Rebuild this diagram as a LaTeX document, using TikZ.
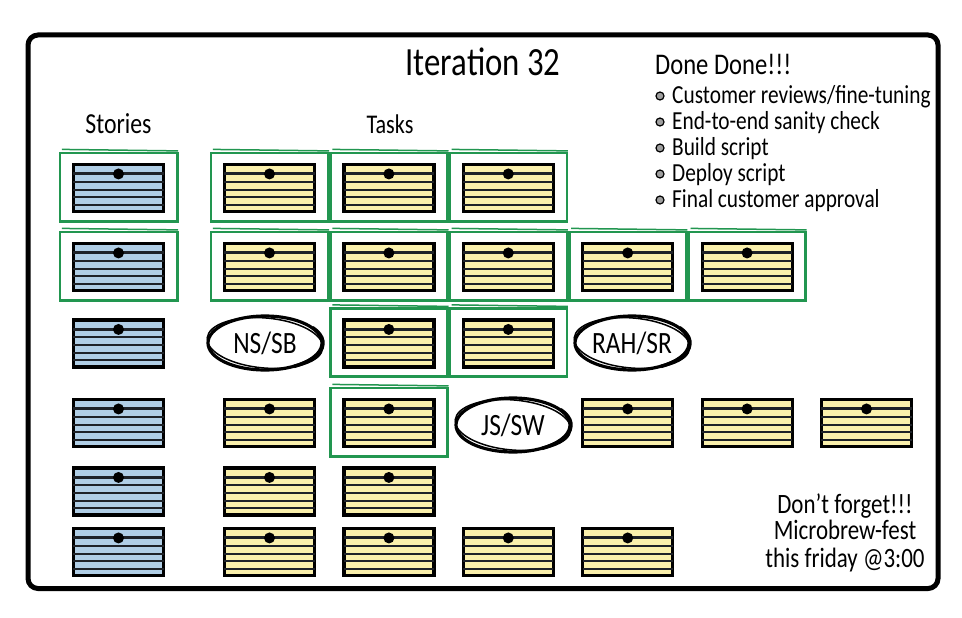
\documentclass[tikz,border=0pt]{standalone}
\usepackage{fontspec}
\setmainfont{Carlito}[FakeStretch=0.82]
\usetikzlibrary{calc,positioning,shapes.geometric}
\tikzset{>=stealth}
\definecolor{storyblue}{RGB}{176,206,230}
\definecolor{taskyellow}{RGB}{250,240,172}
\definecolor{donegreen}{RGB}{34,150,80}
\definecolor{cardline}{RGB}{30,34,40}
\newcommand\cardlines[1]{%
  \foreach \f/\w in {0.22/3pt,0.38/2pt,0.53/2pt,0.68/2pt,0.83/2pt}
    \draw[cardline,line width=\w] ($(#1.north west)!\f!(#1.south west)+(1.5,0)$)--($(#1.north east)!\f!(#1.south east)+(-1.5,0)$);
  \fill ($(#1.north)!0.22!(#1.south)$) circle (5.5pt);}

\begin{document}
\begin{tikzpicture}[x=1pt,y=-1pt,
  card/.style={draw=black,line width=3.2pt,minimum width=90pt,minimum height=47pt,inner sep=0pt},
  storycard/.style={card,fill=storyblue},
  taskcard/.style={card,fill=taskyellow},
  doneframe/.style={draw=donegreen,line width=2.8pt},
  pair/.style={ellipse,draw,line width=3.2pt,minimum width=114pt,minimum height=54pt,inner sep=0pt,font=\fontsize{31}{31}\selectfont},
  label/.style={anchor=base,inner sep=0pt},
  item/.style={anchor=base west,inner sep=0pt,font=\fontsize{26}{26}\selectfont},
  bulletdot/.style={circle,draw=black,line width=1.2pt,fill=gray!75,minimum size=8pt,inner sep=0pt}]
\useasboundingbox (0,0) rectangle (962,618);
\draw[line width=5pt,rounded corners=10pt] (28,35) rectangle (938,588.5);

\node[label,font=\fontsize{40}{40}\selectfont] (title) at (483,76) {Iteration 32};
\node[label,font=\fontsize{29}{29}\selectfont] (stories) at (118.5,133) {Stories};
\node[label,font=\fontsize{27}{27}\selectfont] (tasks) at (390,133) {Tasks};

\node[label,anchor=base west,font=\fontsize{30}{30}\selectfont] (done) at (655,75) {Done Done!!!};
\foreach \i/\t in {1/{Customer reviews/fine-tuning},2/{End-to-end sanity check},3/{Build script},4/{Deploy script},5/{Final customer approval}}{
  \node[item] (d\i) at (672,{103+26*(\i-1)}) {\t};
  \node[bulletdot] (b\i) at ($(d\i.base west)+(-12,-7)$) {};
}

\foreach \r/\y in {1/188,2/267,3/343.5,4/423,5/491.5,6/552}{
  \node[storycard] (s\r) at (118.5,\y) {};
  \cardlines{s\r}
}

\foreach \r/\y/\cols in {1/188/{1,2,3},2/267/{1,2,3,4,5},3/343.5/{2,3},4/423/{1,2,4,5,6},5/491.5/{1,2},6/552/{1,2,3,4}}
  \foreach \c in \cols{
    \node[taskcard] (t\r\c) at ({269.5+119.4*(\c-1)},\y) {};
    \cardlines{t\r\c}
  }

\foreach \n in {s1,s2,t11,t12,t13,t21,t22,t23,t24,t25,t32,t33,t42}{
  \draw[doneframe] ($(\n.north west)+(-12,-10)$) rectangle ($(\n.south east)+(12,8)$);
  \draw[doneframe,line width=1.5pt] ($(\n.north west)+(-10,-13.5)$) -- ($(\n.north east)+(13,-12)$);
}

\node[pair] (nssb) at (265,343) {NS/SB};
\node[pair] (rahsr) at (632,343) {RAH/SR};
\node[pair] (jssw) at (513,425) {JS/SW};
\foreach \n in {nssb,rahsr,jssw}{
  \draw[line width=1.5pt,rotate around={-5:(\n.center)}] (\n.center) ellipse [x radius=58,y radius=25];
  \draw[line width=3.5pt] (\n.center) ++(-35:58 and 27) arc [start angle=-35,end angle=60,x radius=58,y radius=27];
}

\node[label,font=\fontsize{28}{28}\selectfont] (n1) at (845,513) {Don’t forget!!!};
\node[label,font=\fontsize{28}{28}\selectfont] (n2) at (845,539) {Microbrew-fest};
\node[label,font=\fontsize{28}{28}\selectfont] (n3) at (845,567) {this friday @3:00};
\end{tikzpicture}
\end{document}
